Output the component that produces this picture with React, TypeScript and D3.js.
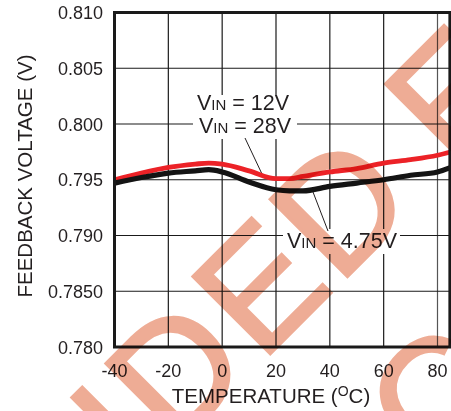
import React from 'react';
import * as d3 from 'd3';

const temps = [-40, -30, -20, -10, -5, 0, 10, 20, 25, 30, 40, 50, 60, 70, 80, 85];
const vin12and28 = [0.7950, 0.7956, 0.7961, 0.7964, 0.7965, 0.7964, 0.7958, 0.7951, 0.7951, 0.7953, 0.7957, 0.7960, 0.7965, 0.7968, 0.7972, 0.7975];
const vin475 = [0.7947, 0.7952, 0.7956, 0.7958, 0.7959, 0.7957, 0.7948, 0.7941, 0.7940, 0.7940, 0.7944, 0.7947, 0.7950, 0.7954, 0.7957, 0.7961];

const xTicks = [-40, -20, 0, 20, 40, 60, 80];
const yTicks = [0.78, 0.785, 0.79, 0.795, 0.8, 0.805, 0.81];
const yTickLabels = ['0.780', '0.7850', '0.790', '0.795', '0.800', '0.805', '0.810'];
const xTitle = 'TEMPERATURE (';
const yTitle = 'FEEDBACK VOLTAGE (V)';
const labelTop = '12V';
const labelMid = '28V';
const labelLow = '4.75V';
const watermarkLine1 = ['I', 'D', 'E', 'D', 'E'];
const watermarkPos1 = [-245, -195, -72, 37, 200];
const watermarkLine2 = ['C'];
const watermarkPos2 = [-30];

const FONT = "'Liberation Sans', Arial, Helvetica, sans-serif";
const TXT = '#231f20';

export default function App() {
  const W = 451, H = 411;
  const x = d3.scaleLinear().domain([-40, 80]).range([114.5, 437.5]);
  const y = d3.scaleLinear().domain([0.78, 0.81]).range([347, 12.5]);
  const x0 = x(-40), x1 = x(84.6), y0 = y(0.78), y1 = y(0.81);

  const line = d3.line<number>()
    .x((_, i) => x(temps[i]))
    .y((d) => y(d))
    .curve(d3.curveMonotoneX);

  const VinLabel = ({ tx, ty, value }: { tx: number; ty: number; value: string }) => (
    <text x={tx} y={ty} fontFamily={FONT} fontSize={21.5} fill={TXT}>
      V<tspan fontSize={15}>IN</tspan> = {value}
    </text>
  );

  return (
    <svg width={W} height={H} style={{ position: 'fixed', left: 0, top: 0, background: '#fff' }}>
      <rect x={0} y={0} width={W} height={H} fill="#fff" />
      <defs>
        <clipPath id="plotClip">
          <rect x={x0} y={y1} width={x1 - x0} height={y0 - y1} />
        </clipPath>
      </defs>
      {/* grid */}
      {xTicks.slice(1).map((t) => (
        <line key={'gx' + t} x1={x(t)} x2={x(t)} y1={y1} y2={y0} stroke={t === 80 ? '#555' : '#1a1a1a'} strokeWidth={1.2} />
      ))}
      {yTicks.slice(1, -1).map((t) => (
        <line key={'gy' + t} x1={x0} x2={x1} y1={y(t)} y2={y(t)} stroke="#1a1a1a" strokeWidth={1.2} />
      ))}
      {/* label backgrounds */}
      <rect x={193} y={95} width={104} height={44} fill="#fff" />
      <rect x={283} y={229} width={117} height={25} fill="#fff" />
      {/* leader lines */}
      <line x1={245} y1={138} x2={262} y2={174} stroke={TXT} strokeWidth={1} />
      <line x1={313} y1={192} x2={328} y2={231} stroke={TXT} strokeWidth={1} />
      {/* series */}
      <g clipPath="url(#plotClip)">
        <path d={line(vin12and28) || ''} fill="none" stroke="#ec2227" strokeWidth={4.8} strokeLinejoin="round" />
        <path d={line(vin475) || ''} fill="none" stroke="#141414" strokeWidth={5.2} strokeLinejoin="round" />
      </g>
      {/* border */}
      <rect x={x0} y={y1} width={x1 - x0} height={y0 - y1} fill="none" stroke="#1a1a1a" strokeWidth={3} />
      {/* labels */}
      <VinLabel tx={197} ty={110} value={labelTop} />
      <VinLabel tx={199} ty={133} value={labelMid} />
      <VinLabel tx={287} ty={248} value={labelLow} />
      {/* y tick labels */}
      {yTicks.map((t, i) => (
        <text key={'yl' + t} x={103} y={y(t) + 6.5} textAnchor="end" fontFamily={FONT} fontSize={18} fill={TXT}>
          {yTickLabels[i]}
        </text>
      ))}
      {/* x tick labels */}
      {xTicks.map((t) => (
        <text key={'xl' + t} x={x(t)} y={377} textAnchor="middle" fontFamily={FONT} fontSize={18} fill={TXT}>
          {t}
        </text>
      ))}
      {/* axis titles */}
      <text x={271} y={403} textAnchor="middle" fontFamily={FONT} fontSize={20.5} fill={TXT}>
        {xTitle}
        <tspan fontSize={14} dy={-7}>O</tspan>
        <tspan dy={7}>C)</tspan>
      </text>
      <text transform="translate(32,176) rotate(-90)" textAnchor="middle" fontFamily={FONT} fontSize={20.5} fill={TXT}>
        {yTitle}
      </text>
      {/* watermark */}
      <g transform="translate(312,312) rotate(-45)" style={{ mixBlendMode: 'multiply' }} fill="#eeac95" stroke="#eeac95" strokeWidth={3} fontFamily={FONT} fontSize={159}>
        {watermarkLine1.map((c, i) => (
          <text key={'w1' + i} x={watermarkPos1[i]} y={0}>{c}</text>
        ))}
        {watermarkLine2.map((c, i) => (
          <text key={'w2' + i} x={watermarkPos2[i]} y={202}>{c}</text>
        ))}
      </g>
    </svg>
  );
}
